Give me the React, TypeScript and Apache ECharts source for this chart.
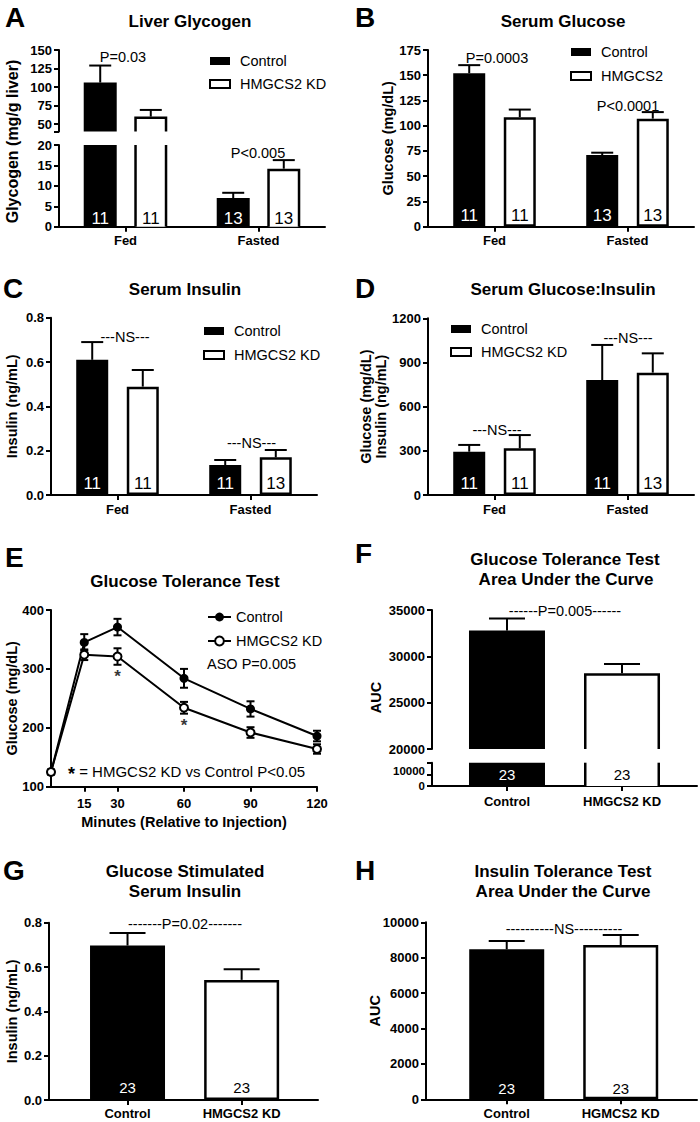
import React, { useEffect, useRef } from 'react';
import * as echarts from 'echarts';

const FONT = '"Liberation Sans", Arial, Helvetica, sans-serif';
const BLACK = '#000000';
const WHITE = '#ffffff';

/* ---------------- DATA ---------------- */
const fedFasted = ['Fed', 'Fasted'];

// A – Liver glycogen (mg/g liver)
const glycogenControl = [106, 7.0];
const glycogenControlSem = [23, 1.3];
const glycogenKD = [60, 14.2];
const glycogenKDSem = [9, 2.1];
const glycogenControlN = [11, 13];
const glycogenKDN = [11, 13];
const glycogenUpperTicks = [40, 50, 75, 100, 125, 150];
const glycogenUpperLabels = [50, 75, 100, 125, 150];

// B – Serum glucose (mg/dL)
const glucoseControl = [152, 71];
const glucoseControlSem = [8, 2.3];
const glucoseKD = [108.5, 107];
const glucoseKDSem = [7.5, 6.5];
const glucoseControlN = [11, 13];
const glucoseKDN = [11, 13];

// C – Serum insulin (ng/mL)
const insulinControl = [0.61, 0.135];
const insulinControlSem = [0.08, 0.023];
const insulinKD = [0.489, 0.17];
const insulinKDSem = [0.075, 0.033];
const insulinControlN = [11, 11];
const insulinKDN = [11, 13];

// D – Serum glucose : insulin
const ratioControl = [294, 781];
const ratioControlSem = [46, 238];
const ratioKD = [317, 831];
const ratioKDSem = [90, 131];
const ratioControlN = [11, 11];
const ratioKDN = [11, 13];

// E – Glucose tolerance test (mg/dL)
const gttMinutes = [0, 15, 30, 60, 90, 120];
const gttMinuteTicks = [15, 30, 60, 90, 120];
const gttControl = [125, 345, 371, 284, 232, 186];
const gttControlSem = [4, 14, 14, 16, 13, 9];
const gttKD = [125, 324, 321, 234, 192, 164];
const gttKDSem = [4, 9, 14, 10, 9, 8];
const gttSignificant = [false, false, true, true, false, false];

// F – GTT area under the curve
const groupCats = ['Control', 'HMGCS2 KD'];
const gttAuc = [32775, 28175];
const gttAucSem = [1300, 1000];
const gttAucN = [23, 23];
const aucLowerTicks = [0, 10000, 20000];
const aucLowerLabelsA = [0];
const aucLowerLabelsB = [10000];

// G – Glucose stimulated serum insulin (ng/mL)
const gsisInsulin = [0.697, 0.542];
const gsisInsulinSem = [0.056, 0.048];
const gsisN = [23, 23];

// H – ITT area under the curve
const ittCats = ['Control', 'HGMCS2 KD'];
const ittAuc = [8475, 8718];
const ittAucSem = [470, 565];
const ittN = [23, 23];

/* ---------------- STYLE HELPERS ---------------- */
const BAR_W = 32;
const BAR_GAP = 0.58;
const PAIR_OFFSET = (BAR_W * (1 + BAR_GAP)) / 2;
const OUTLINE = 2.5;

const axisLine = { show: true, onZero: false, lineStyle: { color: BLACK, width: 2 } };
const axisTick = { show: true, inside: false, length: 5, lineStyle: { color: BLACK, width: 2 } };
const tickFont = {
  color: BLACK,
  fontFamily: FONT,
  fontWeight: 'bold',
  fontSize: 13,
  hideOverlap: false,
};
const nameFont = { color: BLACK, fontFamily: FONT, fontWeight: 'bold', fontSize: 14.5 };
const noSplit = { show: false };
const plain = (v: number) => String(v);
const oneDecimal = (v: number) => Number(v).toFixed(1);

function grid(left: number, top: number, width: number, height: number) {
  return { left, top, width, height, containLabel: false, outerBoundsMode: 'none' };
}

function yAx(o: any) {
  const { labelExtra, tickExtra, lineExtra, ...rest } = o;
  return {
    type: 'value',
    position: 'left',
    offset: 0,
    axisLine: { ...axisLine, ...(lineExtra || {}) },
    axisTick: { ...axisTick, ...(tickExtra || {}) },
    axisLabel: { ...tickFont, margin: 7, formatter: plain, ...(labelExtra || {}) },
    splitLine: noSplit,
    nameLocation: 'middle',
    nameRotate: 90,
    nameTextStyle: nameFont,
    nameMoveOverlap: false,
    ...rest,
  };
}

function xCat(data: string[], margin: number) {
  return {
    type: 'category',
    data,
    axisLine,
    axisTick: { ...axisTick, alignWithLabel: true },
    axisLabel: { ...tickFont, margin, interval: 0 },
    splitLine: noSplit,
  };
}

function xGroups(names: string[], min: number, max: number, margin: number) {
  const idx = names.map((_, i) => i);
  return {
    type: 'value',
    min,
    max,
    axisLine,
    axisTick: { ...axisTick, customValues: idx },
    axisLabel: { ...tickFont, margin, customValues: idx, formatter: (v: number) => names[Math.round(v)] },
    splitLine: noSplit,
  };
}

function txt(text: string, x: number, y: number, size: number, opt: { bold?: boolean; align?: string; rotate?: boolean; rich?: any } = {}) {
  const align = opt.align || 'center';
  const style: any = {
    text,
    fill: BLACK,
    font: `${opt.bold ? 'bold ' : ''}${size}px ${FONT}`,
    align,
    textAlign: align,
    verticalAlign: 'middle',
    textVerticalAlign: 'middle',
  };
  if (opt.rich) style.rich = opt.rich;
  return {
    type: 'text',
    x,
    y,
    rotation: opt.rotate ? Math.PI / 2 : 0,
    silent: true,
    style,
  };
}

function barLegend(left: number, top: number, n1: string, n2: string, gap: number) {
  return {
    orient: 'vertical',
    left,
    top,
    padding: 0,
    itemWidth: 20,
    itemHeight: 8,
    itemGap: gap,
    selectedMode: false,
    textStyle: { color: BLACK, fontFamily: FONT, fontSize: 14.5, padding: [0, 0, 0, 5] },
    data: [
      { name: n1, icon: 'rect', itemStyle: { color: BLACK, borderWidth: 0 } },
      { name: n2, icon: 'rect', itemStyle: { color: WHITE, borderColor: BLACK, borderWidth: 2 } },
    ],
  };
}

// one-sided (upper) error bar, optionally restricted to an axis segment
function errUp(offset: number, capW: number, segMin = -Infinity, segMax = Infinity) {
  return (_p: any, api: any) => {
    const x = api.value(0);
    const v = api.value(1);
    const e = api.value(2);
    if (v < segMin || v > segMax) return null;
    const a = api.coord([x, v]);
    const b = api.coord([x, Math.min(v + e, segMax)]);
    const cx = a[0] + offset;
    const st = { stroke: BLACK, lineWidth: 2, fill: 'none' };
    return {
      type: 'group',
      children: [
        { type: 'line', shape: { x1: cx, y1: a[1], x2: cx, y2: b[1] }, style: st },
        { type: 'line', shape: { x1: cx - capW / 2, y1: b[1], x2: cx + capW / 2, y2: b[1] }, style: st },
      ],
    };
  };
}

// symmetric error bar
function errBoth(capW: number) {
  return (_p: any, api: any) => {
    const t = api.value(0);
    const m = api.value(1);
    const e = api.value(2);
    const lo = api.coord([t, m - e]);
    const hi = api.coord([t, m + e]);
    const cx = lo[0];
    const st = { stroke: BLACK, lineWidth: 2, fill: 'none' };
    return {
      type: 'group',
      children: [
        { type: 'line', shape: { x1: cx, y1: lo[1], x2: cx, y2: hi[1] }, style: st },
        { type: 'line', shape: { x1: cx - capW / 2, y1: hi[1], x2: cx + capW / 2, y2: hi[1] }, style: st },
        { type: 'line', shape: { x1: cx - capW / 2, y1: lo[1], x2: cx + capW / 2, y2: lo[1] }, style: st },
      ],
    };
  };
}

// bar drawn in one segment of a broken axis
function segBar(segMin: number, segMax: number, barW: number, offset: number, dark: boolean, labelAt: string | null, labelSize = 17, labelPad = 0) {
  return (_p: any, api: any) => {
    const x = api.value(0);
    const v = api.value(1);
    const n = api.value(2);
    if (v <= segMin) return null;
    const top = Math.min(v, segMax);
    const pt = api.coord([x, top]);
    const pb = api.coord([x, segMin]);
    const cx = pt[0] + offset;
    const children: any[] = [];
    if (dark) {
      children.push({ type: 'rect', shape: { x: cx - barW / 2, y: pt[1], width: barW, height: pb[1] - pt[1] }, style: { fill: BLACK } });
    } else {
      const l = cx - barW / 2 + OUTLINE / 2;
      const r = cx + barW / 2 - OUTLINE / 2;
      children.push({ type: 'rect', shape: { x: l, y: pt[1], width: r - l, height: pb[1] - pt[1] }, style: { fill: WHITE } });
      const st = { stroke: BLACK, lineWidth: OUTLINE, fill: 'none' };
      if (v <= segMax) {
        const yT = pt[1] + OUTLINE / 2;
        children.push({ type: 'polyline', shape: { points: [[l, pb[1]], [l, yT], [r, yT], [r, pb[1]]] }, style: st });
      } else {
        children.push({ type: 'line', shape: { x1: l, y1: pb[1], x2: l, y2: pt[1] }, style: st });
        children.push({ type: 'line', shape: { x1: r, y1: pb[1], x2: r, y2: pt[1] }, style: st });
      }
    }
    if (labelAt) {
      const ly = labelAt === 'bottom' ? pb[1] - labelPad : (pt[1] + pb[1]) / 2;
      const va = labelAt === 'bottom' ? 'bottom' : 'middle';
      children.push({
        type: 'text',
        x: cx,
        y: ly,
        style: {
          text: String(n),
          fill: dark ? WHITE : BLACK,
          font: `${labelSize}px ${FONT}`,
          align: 'center',
          textAlign: 'center',
          verticalAlign: va,
          textVerticalAlign: va,
        },
      });
    }
    return { type: 'group', children };
  };
}

function customSeries(name: string | undefined, gi: number, data: any[], renderItem: any, z: number) {
  const s: any = { type: 'custom', xAxisIndex: gi, yAxisIndex: gi, data, renderItem, silent: true, z };
  if (name) s.name = name;
  return s;
}

function pairBar(name: string, values: number[], ns: number[], dark: boolean, labelDist: number) {
  return {
    type: 'bar',
    name,
    data: values,
    barWidth: BAR_W,
    barGap: `${BAR_GAP * 100}%`,
    silent: true,
    z: 2,
    itemStyle: dark ? { color: BLACK, borderWidth: 0 } : { color: WHITE, borderColor: BLACK, borderWidth: OUTLINE },
    label: {
      show: true,
      position: 'insideBottom',
      distance: labelDist,
      color: dark ? WHITE : BLACK,
      textBorderWidth: 0,
      fontFamily: FONT,
      fontSize: 17,
      formatter: (p: any) => String(ns[p.dataIndex]),
    },
  };
}

function groupBar(name: string, data: any[], n: number, dark: boolean, labelDist: number) {
  return {
    type: 'bar',
    name,
    data,
    barWidth: 75,
    barGap: '-100%',
    silent: true,
    z: 2,
    itemStyle: dark ? { color: BLACK, borderWidth: 0 } : { color: WHITE, borderColor: BLACK, borderWidth: OUTLINE },
    label: {
      show: true,
      position: 'insideBottom',
      distance: labelDist,
      color: dark ? WHITE : BLACK,
      textBorderWidth: 0,
      fontFamily: FONT,
      fontSize: 15,
      formatter: () => String(n),
    },
  };
}

const withErr = (vals: number[], sem: number[]) => vals.map((v, i) => [i, v, sem[i]]);
const withN = (vals: number[], ns: number[]) => vals.map((v, i) => [i, v, ns[i]]);

/* ---------------- PANELS ---------------- */
function optionA() {
  const ox = 0, oy = 0;
  const X = (v: number) => v - ox, Y = (v: number) => v - oy;
  const UP = [40, 150];
  const LO = [0, 20];
  const ctrl = withN(glycogenControl, glycogenControlN);
  const kd = withN(glycogenKD, glycogenKDN);
  const ctrlErr = withErr(glycogenControl, glycogenControlSem);
  const kdErr = withErr(glycogenKD, glycogenKDSem);
  return {
    animation: false,
    grid: [grid(X(59), Y(50), 266, 81.4), grid(X(59), Y(145), 266, 81.7)],
    xAxis: [
      { gridIndex: 0, type: 'category', data: fedFasted, show: false },
      { gridIndex: 1, ...xCat(fedFasted, 7.5) },
    ],
    yAxis: [
      yAx({ gridIndex: 0, min: UP[0], max: UP[1], tickExtra: { customValues: glycogenUpperTicks }, labelExtra: { customValues: glycogenUpperLabels } }),
      yAx({ gridIndex: 1, min: LO[0], max: LO[1], interval: 5 }),
    ],
    legend: barLegend(X(209), Y(53.5), 'Control', 'HMGCS2 KD', 8),
    series: [
      customSeries('Control', 0, ctrl, segBar(UP[0], UP[1], 33, -PAIR_OFFSET, true, null), 2),
      customSeries('Control', 1, ctrl, segBar(LO[0], LO[1], 33, -PAIR_OFFSET, true, 'bottom', 17, 0), 2),
      customSeries('HMGCS2 KD', 0, kd, segBar(UP[0], UP[1], 33, PAIR_OFFSET, false, null), 2),
      customSeries('HMGCS2 KD', 1, kd, segBar(LO[0], LO[1], 33, PAIR_OFFSET, false, 'bottom', 17, 0), 2),
      customSeries(undefined, 0, ctrlErr, errUp(-PAIR_OFFSET, 22, UP[0], UP[1]), 4),
      customSeries(undefined, 1, ctrlErr, errUp(-PAIR_OFFSET, 22, LO[0], LO[1]), 4),
      customSeries(undefined, 0, kdErr, errUp(PAIR_OFFSET, 22, UP[0], UP[1]), 4),
      customSeries(undefined, 1, kdErr, errUp(PAIR_OFFSET, 22, LO[0], LO[1]), 4),
    ],
    graphic: [
      txt('A', X(5), Y(17), 28, { bold: true, align: 'left' }),
      txt('Liver Glycogen', X(190), Y(21), 17, { bold: true }),
      txt('P=0.03', X(123), Y(57), 14.5),
      txt('P<0.005', X(258), Y(152.5), 14.5),
      txt('Glycogen (mg/g liver)', X(12.5), Y(141.5), 16, { bold: true, rotate: true }),
    ],
  };
}

function pairPanel(cfg: any) {
  const { ox, oy, gridLeft, gridTop, gridW, gridH, yMax, yInterval, yFmt, yName, nameGap, nameLineHeight, legendLeft, legendTop, legendGap, kdName, ctrl, ctrlSem, ctrlN, kd, kdSem, kdN, labelDist, xMargin, graphics } = cfg;
  const X = (v: number) => v - ox, Y = (v: number) => v - oy;
  return {
    animation: false,
    grid: grid(X(gridLeft), Y(gridTop), gridW, gridH),
    xAxis: xCat(fedFasted, xMargin),
    yAxis: yAx({
      min: 0,
      max: yMax,
      interval: yInterval,
      labelExtra: yFmt ? { formatter: yFmt } : {},
      name: yName,
      nameGap,
      nameTextStyle: nameLineHeight ? { ...nameFont, lineHeight: nameLineHeight } : nameFont,
    }),
    legend: barLegend(X(legendLeft), Y(legendTop), 'Control', kdName, legendGap),
    series: [
      pairBar('Control', ctrl, ctrlN, true, labelDist),
      pairBar(kdName, kd, kdN, false, labelDist),
      customSeries(undefined, 0, withErr(ctrl, ctrlSem), errUp(-PAIR_OFFSET, 22), 4),
      customSeries(undefined, 0, withErr(kd, kdSem), errUp(PAIR_OFFSET, 22), 4),
    ],
    graphic: graphics.map((g: any) => txt(g[0], X(g[1]), Y(g[2]), g[3], g[4] || {})),
  };
}

function optionB() {
  return pairPanel({
    ox: 350, oy: 0, gridLeft: 428, gridTop: 50, gridW: 266, gridH: 176.7,
    yMax: 175, yInterval: 25, yName: 'Glucose (mg/dL)', nameGap: 33,
    legendLeft: 570, legendTop: 44.5, legendGap: 9, kdName: 'HMGCS2',
    ctrl: glucoseControl, ctrlSem: glucoseControlSem, ctrlN: glucoseControlN,
    kd: glucoseKD, kdSem: glucoseKDSem, kdN: glucoseKDN, labelDist: 3, xMargin: 7.5,
    graphics: [
      ['B', 355, 17, 28, { bold: true, align: 'left' }],
      ['Serum Glucose', 563, 21, 17, { bold: true }],
      ['P=0.0003', 497, 57.5, 14.5],
      ['P<0.0001', 628, 106, 14.5],
    ],
  });
}

function optionC() {
  return pairPanel({
    ox: 0, oy: 250, gridLeft: 51, gridTop: 317.7, gridW: 266, gridH: 177.3,
    yMax: 0.8, yInterval: 0.2, yFmt: oneDecimal, yName: 'Insulin (ng/mL)', nameGap: 32,
    legendLeft: 203, legendTop: 323.5, legendGap: 9, kdName: 'HMGCS2 KD',
    ctrl: insulinControl, ctrlSem: insulinControlSem, ctrlN: insulinControlN,
    kd: insulinKD, kdSem: insulinKDSem, kdN: insulinKDN, labelDist: 3, xMargin: 8,
    graphics: [
      ['C', 3, 288.6, 28, { bold: true, align: 'left' }],
      ['Serum Insulin', 185, 289, 17, { bold: true }],
      ['---NS---', 125, 336.7, 14.5],
      ['---NS---', 251.5, 443, 14.5],
    ],
  });
}

function optionD() {
  return pairPanel({
    ox: 350, oy: 250, gridLeft: 428, gridTop: 318.3, gridW: 266, gridH: 176.7,
    yMax: 1200, yInterval: 300, yName: 'Glucose (mg/dL)\nInsulin (ng/mL)', nameGap: 40, nameLineHeight: 15,
    legendLeft: 450, legendTop: 321.5, legendGap: 8, kdName: 'HMGCS2 KD',
    ctrl: ratioControl, ctrlSem: ratioControlSem, ctrlN: ratioControlN,
    kd: ratioKD, kdSem: ratioKDSem, kdN: ratioKDN, labelDist: 3, xMargin: 8,
    graphics: [
      ['D', 355, 288.6, 28, { bold: true, align: 'left' }],
      ['Serum Glucose:Insulin', 563, 289, 17, { bold: true }],
      ['---NS---', 497, 430, 14.5],
      ['---NS---', 628, 338, 14.5],
    ],
  });
}

function optionE() {
  const ox = 0, oy = 520;
  const X = (v: number) => v - ox, Y = (v: number) => v - oy;
  const ctrlPts = gttMinutes.map((t, i) => [t, gttControl[i]]);
  const kdPts = gttMinutes.map((t, i) => [t, gttKD[i]]);
  const ctrlErr = gttMinutes.map((t, i) => [t, gttControl[i], gttControlSem[i]]);
  const kdErr = gttMinutes.map((t, i) => [t, gttKD[i], gttKDSem[i]]);
  const sigPts = gttMinutes.map((t, i) => (gttSignificant[i] ? [t, gttKD[i] - gttKDSem[i]] : null)).filter(Boolean);
  return {
    animation: false,
    grid: grid(X(51), Y(610), 266, 176.7),
    xAxis: {
      type: 'value',
      min: 0,
      max: 120,
      axisLine,
      axisTick: { ...axisTick, customValues: gttMinuteTicks },
      axisLabel: { ...tickFont, margin: 10, customValues: gttMinuteTicks, formatter: plain },
      splitLine: noSplit,
      name: 'Minutes (Relative to Injection)',
      nameLocation: 'middle',
      nameGap: 28,
      nameTextStyle: nameFont,
      nameMoveOverlap: false,
    },
    yAxis: yAx({ min: 100, max: 400, interval: 100, name: 'Glucose (mg/dL)', nameGap: 32 }),
    legend: {
      orient: 'vertical',
      left: X(207),
      top: Y(609.5),
      padding: 0,
      itemWidth: 23,
      itemHeight: 11,
      itemGap: 9,
      selectedMode: false,
      textStyle: { color: BLACK, fontFamily: FONT, fontSize: 14.5 },
      data: ['Control', 'HMGCS2 KD'],
    },
    series: [
      customSeries(undefined, 0, ctrlErr, errBoth(8), 1),
      customSeries(undefined, 0, kdErr, errBoth(8), 1),
      {
        type: 'line',
        name: 'Control',
        data: ctrlPts,
        symbol: 'circle',
        symbolSize: 9,
        showSymbol: true,
        clip: false,
        silent: true,
        z: 3,
        lineStyle: { color: BLACK, width: 2 },
        itemStyle: { color: BLACK, borderWidth: 0 },
      },
      {
        type: 'line',
        name: 'HMGCS2 KD',
        data: kdPts,
        symbol: 'circle',
        symbolSize: 8,
        showSymbol: true,
        clip: false,
        silent: true,
        z: 3,
        lineStyle: { color: BLACK, width: 2 },
        itemStyle: { color: WHITE, borderColor: BLACK, borderWidth: 2 },
      },
      {
        type: 'scatter',
        data: sigPts,
        symbolSize: 0,
        silent: true,
        z: 3,
        itemStyle: { color: 'rgba(0,0,0,0)' },
        label: { show: true, position: 'bottom', distance: 3, formatter: '*', color: BLACK, fontFamily: FONT, fontWeight: 'bold', fontSize: 17 },
      },
    ],
    graphic: [
      txt('E', X(5), Y(557), 28, { bold: true, align: 'left' }),
      txt('Glucose Tolerance Test', X(185), Y(581), 17, { bold: true }),
      txt('ASO P=0.005', X(207), Y(664), 14.5, { align: 'left' }),
      txt('{s|*} = HMGCS2 KD vs Control P<0.05', X(68), Y(771), 15, {
        align: 'left',
        rich: { s: { fontFamily: FONT, fontWeight: 'bold', fontSize: 18, fill: BLACK, color: BLACK, padding: [5, 0, 0, 0] } },
      }),
    ],
  };
}

function optionF() {
  const ox = 350, oy = 520;
  const X = (v: number) => v - ox, Y = (v: number) => v - oy;
  const UP = [20000, 35000];
  const LO = [0, 20000];
  const xr = [-0.652, 1.652];
  const ctrl = [[0, gttAuc[0], gttAucN[0]]];
  const kd = [[1, gttAuc[1], gttAucN[1]]];
  const err = withErr(gttAuc, gttAucSem);
  return {
    animation: false,
    grid: [grid(X(432), Y(610), 265, 139), grid(X(432), Y(762.7), 265, 23.3)],
    xAxis: [
      { gridIndex: 0, type: 'value', min: xr[0], max: xr[1], show: false },
      { gridIndex: 1, ...xGroups(groupCats, xr[0], xr[1], 9) },
    ],
    yAxis: [
      yAx({ gridIndex: 0, min: UP[0], max: UP[1], interval: 5000 }),
      yAx({
        gridIndex: 1,
        min: LO[0],
        max: LO[1],
        tickExtra: { customValues: aucLowerTicks },
        labelExtra: { customValues: aucLowerLabelsA, fontSize: 11.5 },
      }),
      yAx({
        gridIndex: 1,
        min: LO[0],
        max: LO[1],
        lineExtra: { show: false },
        tickExtra: { show: false },
        labelExtra: { customValues: aucLowerLabelsB, fontSize: 11.5, verticalAlign: 'bottom', lineHeight: 6 },
      }),
    ],
    series: [
      customSeries('Control', 0, ctrl, segBar(UP[0], UP[1], 76, 0, true, null), 2),
      customSeries('Control', 1, ctrl, segBar(LO[0], LO[1], 76, 0, true, 'middle', 15), 2),
      customSeries('HMGCS2 KD', 0, kd, segBar(UP[0], UP[1], 76, 0, false, null), 2),
      customSeries('HMGCS2 KD', 1, kd, segBar(LO[0], LO[1], 76, 0, false, 'middle', 15), 2),
      customSeries(undefined, 0, err, errUp(0, 36, UP[0], UP[1]), 4),
    ],
    graphic: [
      txt('F', X(355), Y(553.5), 28, { bold: true, align: 'left' }),
      txt('Glucose Tolerance Test', X(565), Y(559), 17, { bold: true }),
      txt('Area Under the Curve', X(566), Y(579), 17, { bold: true }),
      txt('------P=0.005------', X(565), Y(611), 14.5),
      txt('AUC', X(376), Y(697.5), 14.5, { bold: true, rotate: true }),
    ],
  };
}

function optionG() {
  const ox = 0, oy = 830;
  const X = (v: number) => v - ox, Y = (v: number) => v - oy;
  return {
    animation: false,
    grid: grid(X(49), Y(922.7), 269, 177.3),
    xAxis: xGroups(groupCats, -0.688, 1.669, 6.5),
    yAxis: yAx({ min: 0, max: 0.8, interval: 0.2, labelExtra: { formatter: oneDecimal }, name: 'Insulin (ng/mL)', nameGap: 30 }),
    series: [
      groupBar('Control', [[0, gsisInsulin[0]]], gsisN[0], true, 5),
      groupBar('HMGCS2 KD', [[1, gsisInsulin[1]]], gsisN[1], false, 5),
      customSeries(undefined, 0, withErr(gsisInsulin, gsisInsulinSem), errUp(0, 36), 4),
    ],
    graphic: [
      txt('G', X(3), Y(870.3), 28, { bold: true, align: 'left' }),
      txt('Glucose Stimulated', X(185), Y(871), 17, { bold: true }),
      txt('Serum Insulin', X(185), Y(891.4), 17, { bold: true }),
      txt('-------P=0.02-------', X(185), Y(924), 14.5),
    ],
  };
}

function optionH() {
  const ox = 350, oy = 830;
  const X = (v: number) => v - ox, Y = (v: number) => v - oy;
  return {
    animation: false,
    grid: grid(X(426), Y(922.3), 271, 177),
    xAxis: xGroups(ittCats, -0.708, 1.669, 7.5),
    yAxis: yAx({ min: 0, max: 10000, interval: 2000, name: 'AUC', nameGap: 44 }),
    series: [
      groupBar('Control', [[0, ittAuc[0]]], ittN[0], true, 3),
      groupBar('HGMCS2 KD', [[1, ittAuc[1]]], ittN[1], false, 3),
      customSeries(undefined, 0, withErr(ittAuc, ittAucSem), errUp(0, 36), 4),
    ],
    graphic: [
      txt('H', X(355), Y(870.3), 28, { bold: true, align: 'left' }),
      txt('Insulin Tolerance Test', X(563), Y(871), 17, { bold: true }),
      txt('Area Under the Curve', X(563), Y(891.4), 17, { bold: true }),
      txt('----------NS----------', X(564), Y(929), 14.5),
    ],
  };
}

const PANELS = [
  { id: 'A', x: 0, y: 0, w: 350, h: 250, build: optionA },
  { id: 'B', x: 350, y: 0, w: 350, h: 250, build: optionB },
  { id: 'C', x: 0, y: 250, w: 350, h: 270, build: optionC },
  { id: 'D', x: 350, y: 250, w: 350, h: 270, build: optionD },
  { id: 'E', x: 0, y: 520, w: 350, h: 310, build: optionE },
  { id: 'F', x: 350, y: 520, w: 350, h: 310, build: optionF },
  { id: 'G', x: 0, y: 830, w: 350, h: 292, build: optionG },
  { id: 'H', x: 350, y: 830, w: 350, h: 292, build: optionH },
];

function Chart({ x, y, w, h, build }: { x: number; y: number; w: number; h: number; build: () => any }) {
  const ref = useRef<HTMLDivElement>(null);
  useEffect(() => {
    if (!ref.current) return;
    const chart = echarts.init(ref.current, undefined, { renderer: 'svg', width: w, height: h });
    chart.setOption(build());
    return () => chart.dispose();
  }, []);
  return <div ref={ref} style={{ position: 'absolute', left: x, top: y, width: w, height: h }} />;
}

export default function App() {
  return (
    <div style={{ position: 'absolute', left: 0, top: 0, width: 700, height: 1122, background: WHITE, overflow: 'hidden' }}>
      {PANELS.map((p) => (
        <Chart key={p.id} x={p.x} y={p.y} w={p.w} h={p.h} build={p.build} />
      ))}
    </div>
  );
}
